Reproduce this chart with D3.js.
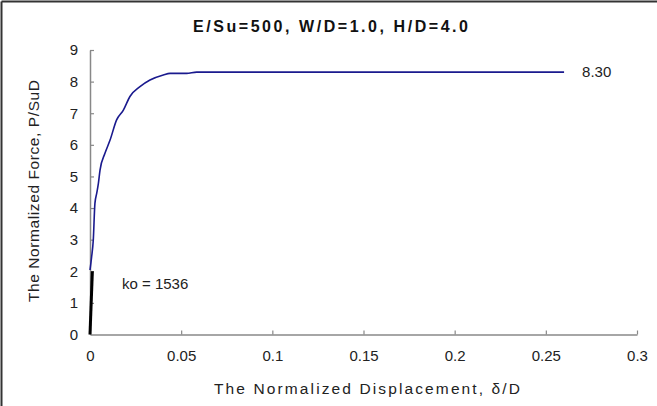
<!DOCTYPE html>
<html><head><meta charset="utf-8">
<script src="https://cdn.jsdelivr.net/npm/d3@7"></script>
<style>body{margin:0;background:#fff}svg{display:block}text{font-family:"Liberation Sans",Arial,sans-serif}</style>
</head><body><svg id="c" width="657" height="406"></svg>
<script>
const title = "E/Su=500, W/D=1.0, H/D=4.0";
const xTicks = [0, 0.05, 0.1, 0.15, 0.2, 0.25, 0.3];
const xTickLabels = ["0", "0.05", "0.1", "0.15", "0.2", "0.25", "0.3"];
const yTicks = [0,1,2,3,4,5,6,7,8,9];
const curveX = [0, 0.0009, 0.0018, 0.0027, 0.0037, 0.0046, 0.0055, 0.0082, 0.011, 0.0146, 0.0183, 0.0219, 0.0274, 0.0329, 0.0402, 0.0439, 0.053, 0.0585, 0.1, 0.15, 0.2, 0.26];
const curveY = [2.04, 2.46, 2.99, 4.15, 4.47, 4.78, 5.2, 5.73, 6.15, 6.79, 7.1, 7.53, 7.84, 8.05, 8.21, 8.26, 8.26, 8.30, 8.30, 8.30, 8.30, 8.30];
const koX = [0, 0.0013];
const koY = [0, 2];
const koLabel = "ko = 1536";
const endLabel = "8.30";

const svg = d3.select("#c");
const x = d3.scaleLinear().domain([0, 0.3]).range([90, 637]);
const y = d3.scaleLinear().domain([0, 9]).range([334.5, 50]);

// outer frame (top & left)
svg.append("line").attr("x1",1.5).attr("x2",657).attr("y1",1.5).attr("y2",1.5).attr("stroke","#333").attr("stroke-width",2);
svg.append("line").attr("x1",1.5).attr("x2",1.5).attr("y1",1.5).attr("y2",406).attr("stroke","#333").attr("stroke-width",2);

const axisColor = "#888";
const xa = svg.append("g").attr("transform","translate(0,334.5)")
  .call(d3.axisBottom(x).tickValues(xTicks).tickFormat((d,i)=>xTickLabels[i]).tickSizeInner(-4).tickSizeOuter(0).tickPadding(16));
const ya = svg.append("g").attr("transform","translate(90,0)")
  .call(d3.axisLeft(y).tickValues(yTicks).tickSizeInner(-4).tickSizeOuter(0).tickPadding(12));
[xa, ya].forEach(g=>{
  g.select(".domain").attr("stroke",axisColor).attr("stroke-width",1.5);
  g.selectAll(".tick line").attr("stroke",axisColor).attr("stroke-width",1.2);
  g.selectAll(".tick text").attr("fill","#222").attr("font-size",15);
});
xa.selectAll(".tick line").filter(d=>d===0).remove();
ya.selectAll(".tick line").filter(d=>d===0).remove();

const line = d3.line().x(d=>x(d[0])).y(d=>y(d[1]));
svg.append("path").datum(koX.map((v,i)=>[v,koY[i]])).attr("d",line)
  .attr("fill","none").attr("stroke","#000").attr("stroke-width",3);
svg.append("path").datum(curveX.map((v,i)=>[v,curveY[i]])).attr("d",line.curve(d3.curveMonotoneX))
  .attr("fill","none").attr("stroke","#1a1a8e").attr("stroke-width",1.6);

svg.append("text").attr("x",x(0.26)+18).attr("y",y(8.30)+5).attr("font-size",15).attr("fill","#222").text(endLabel);
svg.append("text").attr("x",122).attr("y",289).attr("font-size",15).attr("fill","#222").text(koLabel);

svg.append("text").attr("x",193).attr("y",32).attr("font-size",16).attr("font-weight","bold")
  .attr("textLength",275).attr("lengthAdjust","spacing").attr("fill","#111").text(title);
svg.append("text").attr("x",214).attr("y",394).attr("font-size",15.5)
  .attr("textLength",306).attr("lengthAdjust","spacing").attr("fill","#222").text("The Normalized Displacement, δ/D");
svg.append("text").attr("transform","translate(39,302) rotate(-90)").attr("font-size",15.5)
  .attr("textLength",222).attr("lengthAdjust","spacing").attr("fill","#222").text("The Normalized Force, P/SuD");
</script></body></html>
